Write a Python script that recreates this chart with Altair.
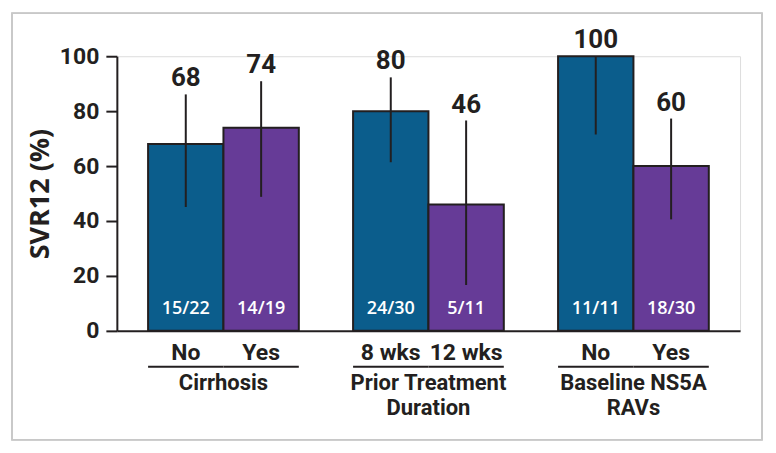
import altair as alt
import pandas as pd

groups = ["Cirrhosis", "Cirrhosis", "Prior Treatment\nDuration", "Prior Treatment\nDuration",
          "Baseline NS5A\nRAVs", "Baseline NS5A\nRAVs"]
subs = ["No", "Yes", "8 wks", "12 wks", "No", "Yes"]
slot = ["a", "b", "a", "b", "a", "b"]
svr = [68, 74, 80, 46, 100, 60]
ci_low = [45.1, 48.8, 61.4, 16.7, 71.5, 40.6]
ci_high = [86.1, 90.9, 92.3, 76.6, 100, 77.3]
counts = ["15/22", "14/19", "24/30", "5/11", "11/11", "18/30"]
group_order = ["Cirrhosis", "Prior Treatment\nDuration", "Baseline NS5A\nRAVs"]

df = pd.DataFrame({
    "group": groups, "sub": subs, "slot": slot, "svr": svr,
    "lo": ci_low, "hi": ci_high, "n": counts,
})

W, H = 624, 275
FONT_C = "Roboto"
FONT = "Open Sans"
INK = "#231f20"

x_enc = alt.X("group:N", sort=group_order,
              scale=alt.Scale(paddingInner=0, paddingOuter=0.02),
              axis=alt.Axis(title=None, labels=False, ticks=False, domainColor=INK,
                            domainWidth=2))
xo_enc = alt.XOffset("slot:N", scale=alt.Scale(paddingInner=0, paddingOuter=0.36))

base = alt.Chart(df)

bars = base.mark_bar(stroke=INK, strokeWidth=2).encode(
    x=x_enc,
    xOffset=xo_enc,
    y=alt.Y("svr:Q", scale=alt.Scale(domain=[0, 100], nice=False),
            axis=alt.Axis(title="SVR12 (%)", values=[0, 20, 40, 60, 80, 100],
                          grid=False, domainColor=INK, domainWidth=2,
                          tickColor=INK, tickWidth=2, tickSize=11,
                          labelFont=FONT_C, labelFontSize=23, labelFontWeight="bold",
                          labelColor=INK, labelPadding=7,
                          titleFont=FONT, titleFontSize=27, titleFontWeight="bold",
                          titleColor=INK, titlePadding=5)),
    color=alt.Color("slot:N", scale=alt.Scale(domain=["a", "b"], range=["#0b5d8c", "#663b97"]),
                    legend=None),
)

err = base.mark_rule(color=INK, strokeWidth=2).encode(
    x=alt.X("group:N", sort=group_order), xOffset="slot:N",
    y="lo:Q", y2="hi:Q",
)

vals = base.mark_text(font=FONT_C, fontSize=26, fontWeight="bold", color=INK,
                      baseline="bottom", dy=-3).encode(
    x=alt.X("group:N", sort=group_order), xOffset="slot:N",
    y="hi:Q", text="svr:Q",
)

ns = base.mark_text(font=FONT, fontSize=18, fontWeight=600, color="white",
                    baseline="middle").encode(
    x=alt.X("group:N", sort=group_order), xOffset="slot:N",
    y=alt.value(253), text="n:N",
)

subl = base.mark_text(font=FONT_C, fontSize=23, fontWeight="bold", color=INK,
                      baseline="middle").encode(
    x=alt.X("group:N", sort=group_order), xOffset="slot:N",
    y=alt.value(297), text="sub:N",
)

uline = base.mark_bar(color=INK).encode(
    x=alt.X("group:N", sort=group_order), xOffset="slot:N",
    y=alt.value(310), y2=alt.value(312),
)

gdf = pd.DataFrame({"group": group_order})
gtitle = alt.Chart(gdf).mark_text(font=FONT_C, fontSize=22, fontWeight="bold", color=INK,
                                  baseline="top", lineBreak="\n", lineHeight=25).encode(
    x=alt.X("group:N", sort=group_order), y=alt.value(317), text="group:N",
)

frame = alt.Chart(gdf).mark_rect(filled=False, stroke="#c8c8c8", strokeWidth=1.5).encode(
    x=alt.value(-105), x2=alt.value(646), y=alt.value(-43), y2=alt.value(384),
)

chart = alt.layer(frame, bars, err, vals, ns, uline, subl, gtitle).properties(
    width=W, height=H, padding={"left": 3, "top": 4, "right": 5, "bottom": 5},
).configure_view(stroke=None).configure(background="white")

chart.save("out.html", embed_options={"renderer": "svg", "actions": False})
